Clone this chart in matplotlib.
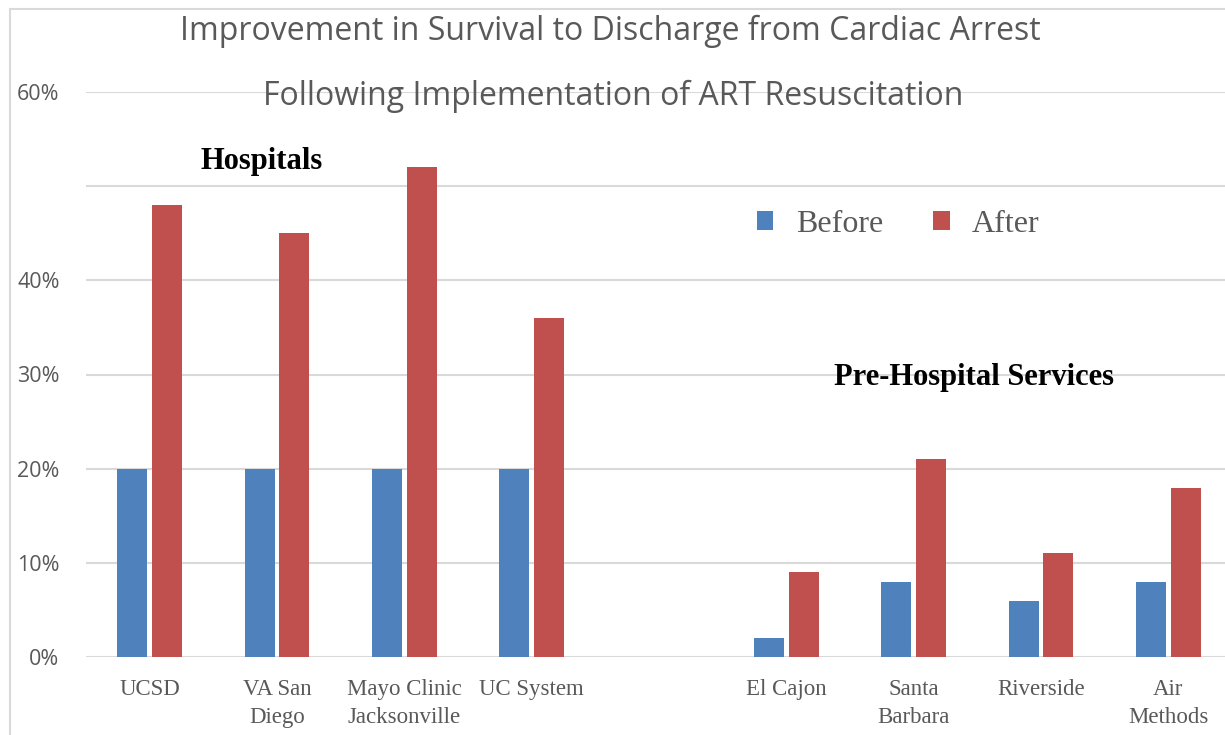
import numpy as np
import matplotlib
matplotlib.use("Agg")
import matplotlib.pyplot as plt
from matplotlib.patches import Rectangle

# data (percent); slot 4 is the empty gap between groups
categories = ["UCSD", "VA San\nDiego", "Mayo Clinic\nJacksonville", "UC System", "",
              "El Cajon", "Santa\nBarbara", "Riverside", "Air\nMethods"]
before = [20, 20, 20, 20, np.nan, 2, 8, 6, 8]
after = [48, 45, 52, 36, np.nan, 9, 21, 11, 18]
yticks = [0, 10, 20, 30, 40, 50, 60]
ytick_labels = ["0%", "10%", "20%", "30%", "40%", "", "60%"]

BLUE = "#4F81BD"
RED = "#C0504D"
GRID = "#D9D9D9"
TEXT = "#595959"
SERIF = ["Liberation Serif", "DejaVu Serif"]
SANS = ["Open Sans", "DejaVu Sans"]

fig = plt.figure(figsize=(12.25, 7.35), dpi=100)
W, H = 1225, 735
ax = fig.add_axes([86 / W, 1 - 657 / H, (1232 - 86) / W, (657 - 92) / H])

# light frame around the chart area
fig.patches.append(Rectangle((10 / W, -0.1), 1.2, 1 - 9 / H + 0.1, transform=fig.transFigure,
                             fill=False, edgecolor=GRID, linewidth=1.5))

x = np.arange(len(categories))
w = 0.235
off = 0.137
ax.bar(x - off, before, w, color=BLUE, label="Before", zorder=3)
ax.bar(x + off, after, w, color=RED, label="After", zorder=3)

ax.set_xlim(-0.5, len(categories) - 0.5)
ax.set_ylim(0, 60)
ax.set_yticks(yticks)
ax.set_yticklabels(ytick_labels, family=SANS, fontsize=15.5, color=TEXT)
ax.set_xticks(x)
ax.set_xticklabels(categories, family=SERIF, fontsize=16.5, color=TEXT, linespacing=1.45,
                   va="top")
ax.tick_params(axis="both", length=0)
ax.tick_params(axis="x", pad=16)
ax.tick_params(axis="y", pad=19)
ax.yaxis.grid(True, color=GRID, linewidth=1.5, zorder=0)
for s in ax.spines.values():
    s.set_visible(False)

fig.text(610 / W, 1 - 31 / H, "Improvement in Survival to Discharge from Cardiac Arrest",
         ha="center", va="center", family=SANS, fontsize=23, color=TEXT)
fig.text(613 / W, 1 - 96 / H, "Following Implementation of ART Resuscitation",
         ha="center", va="center", family=SANS, fontsize=23, color=TEXT)

fig.text(262 / W, 1 - 162 / H, "Hospitals", ha="center", va="center",
         family=SERIF, fontsize=22, fontweight="bold", color="black")
fig.text(974 / W, 1 - 377 / H, "Pre-Hospital Services", ha="center", va="center",
         family=SERIF, fontsize=22, fontweight="bold", color="black")

ax.legend(loc="center", bbox_to_anchor=(898 / W, 1 - 224 / H), bbox_transform=fig.transFigure,
          ncol=2, frameon=False, prop={"family": SERIF, "size": 23},
          labelcolor=TEXT, handlelength=0.53, handleheight=0.53, columnspacing=1.55,
          handletextpad=0.7)

fig.savefig("out.png", dpi=100)
